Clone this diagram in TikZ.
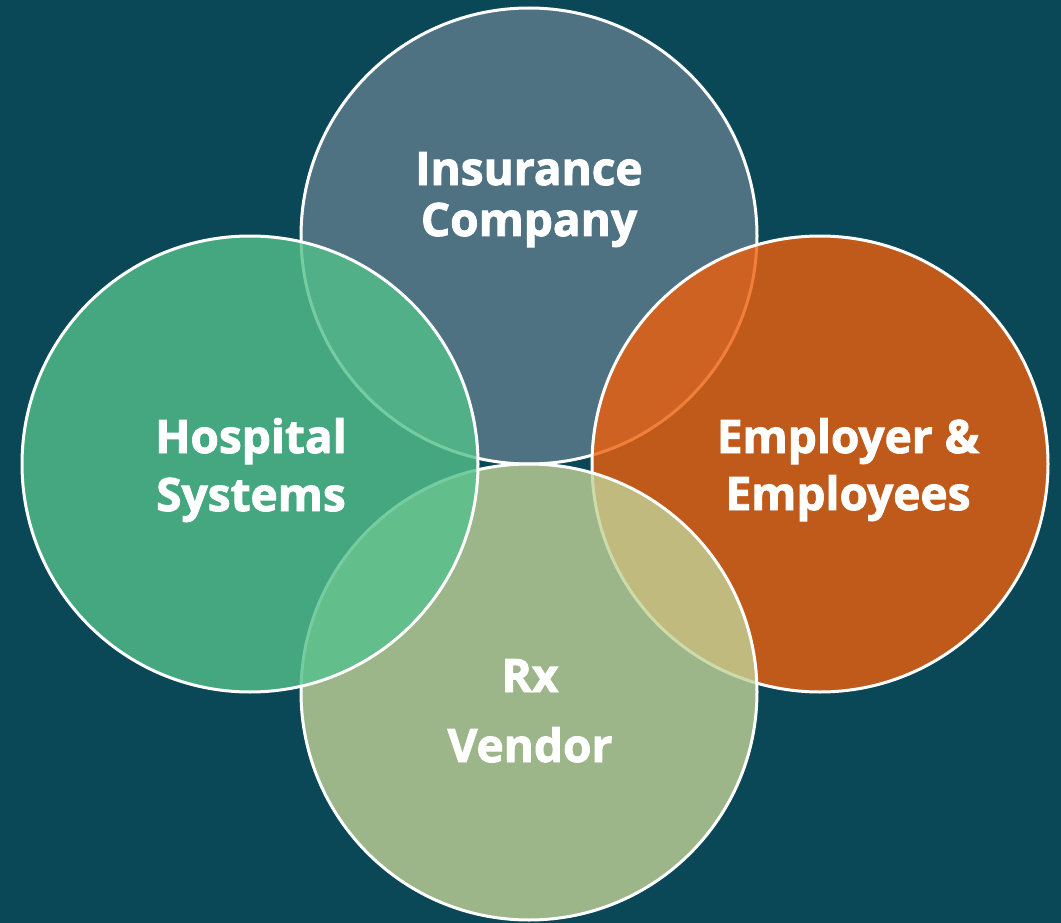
\documentclass[tikz,border=0pt]{standalone}
\usepackage{fontspec}
\setmainfont{Open Sans}[BoldFeatures={FakeBold=2}]
\definecolor{bgteal}{RGB}{10,71,87}
\definecolor{insblue}{RGB}{96,125,141}
\definecolor{emporange}{RGB}{238,95,11}
\definecolor{rxsage}{RGB}{193,210,151}
\definecolor{hospgreen}{RGB}{84,192,138}

\begin{document}
\begin{tikzpicture}[x=1pt, y=-1pt,
    ring/.style={circle, draw=white, line width=3pt, fill opacity=0.8, minimum size=456pt, inner sep=0pt},
    ringtext/.style={anchor=base, align=center, text=white, inner sep=0pt, font=\fontsize{46}{#1}\selectfont\bfseries}]
			% Background
			\fill[bgteal] (0,0) rectangle (1061,923);
			\useasboundingbox (0,0) rectangle (1061,923);

			% Circles
			\node[ring, fill=insblue] (ins) at (529,236) {};
			\node[ring, fill=emporange] (emp) at (820,464) {};
			\node[ring, fill=rxsage] (rx) at (529,692) {};
			\node[ring, fill=hospgreen] (hosp) at (250,464) {};

			% Labels
			\node[ringtext=51] (ins text) at (529,236) {Insurance\\Company};
			\node[ringtext=57] (emp text) at (848,510) {Employer \&\\Employees};
			\node[ringtext=70] (rx text) at (530,762) {Rx\\Vendor};
			\node[ringtext=58] (hosp text) at (251,511) {Hospital\\Systems};
		\end{tikzpicture}
\end{document}
